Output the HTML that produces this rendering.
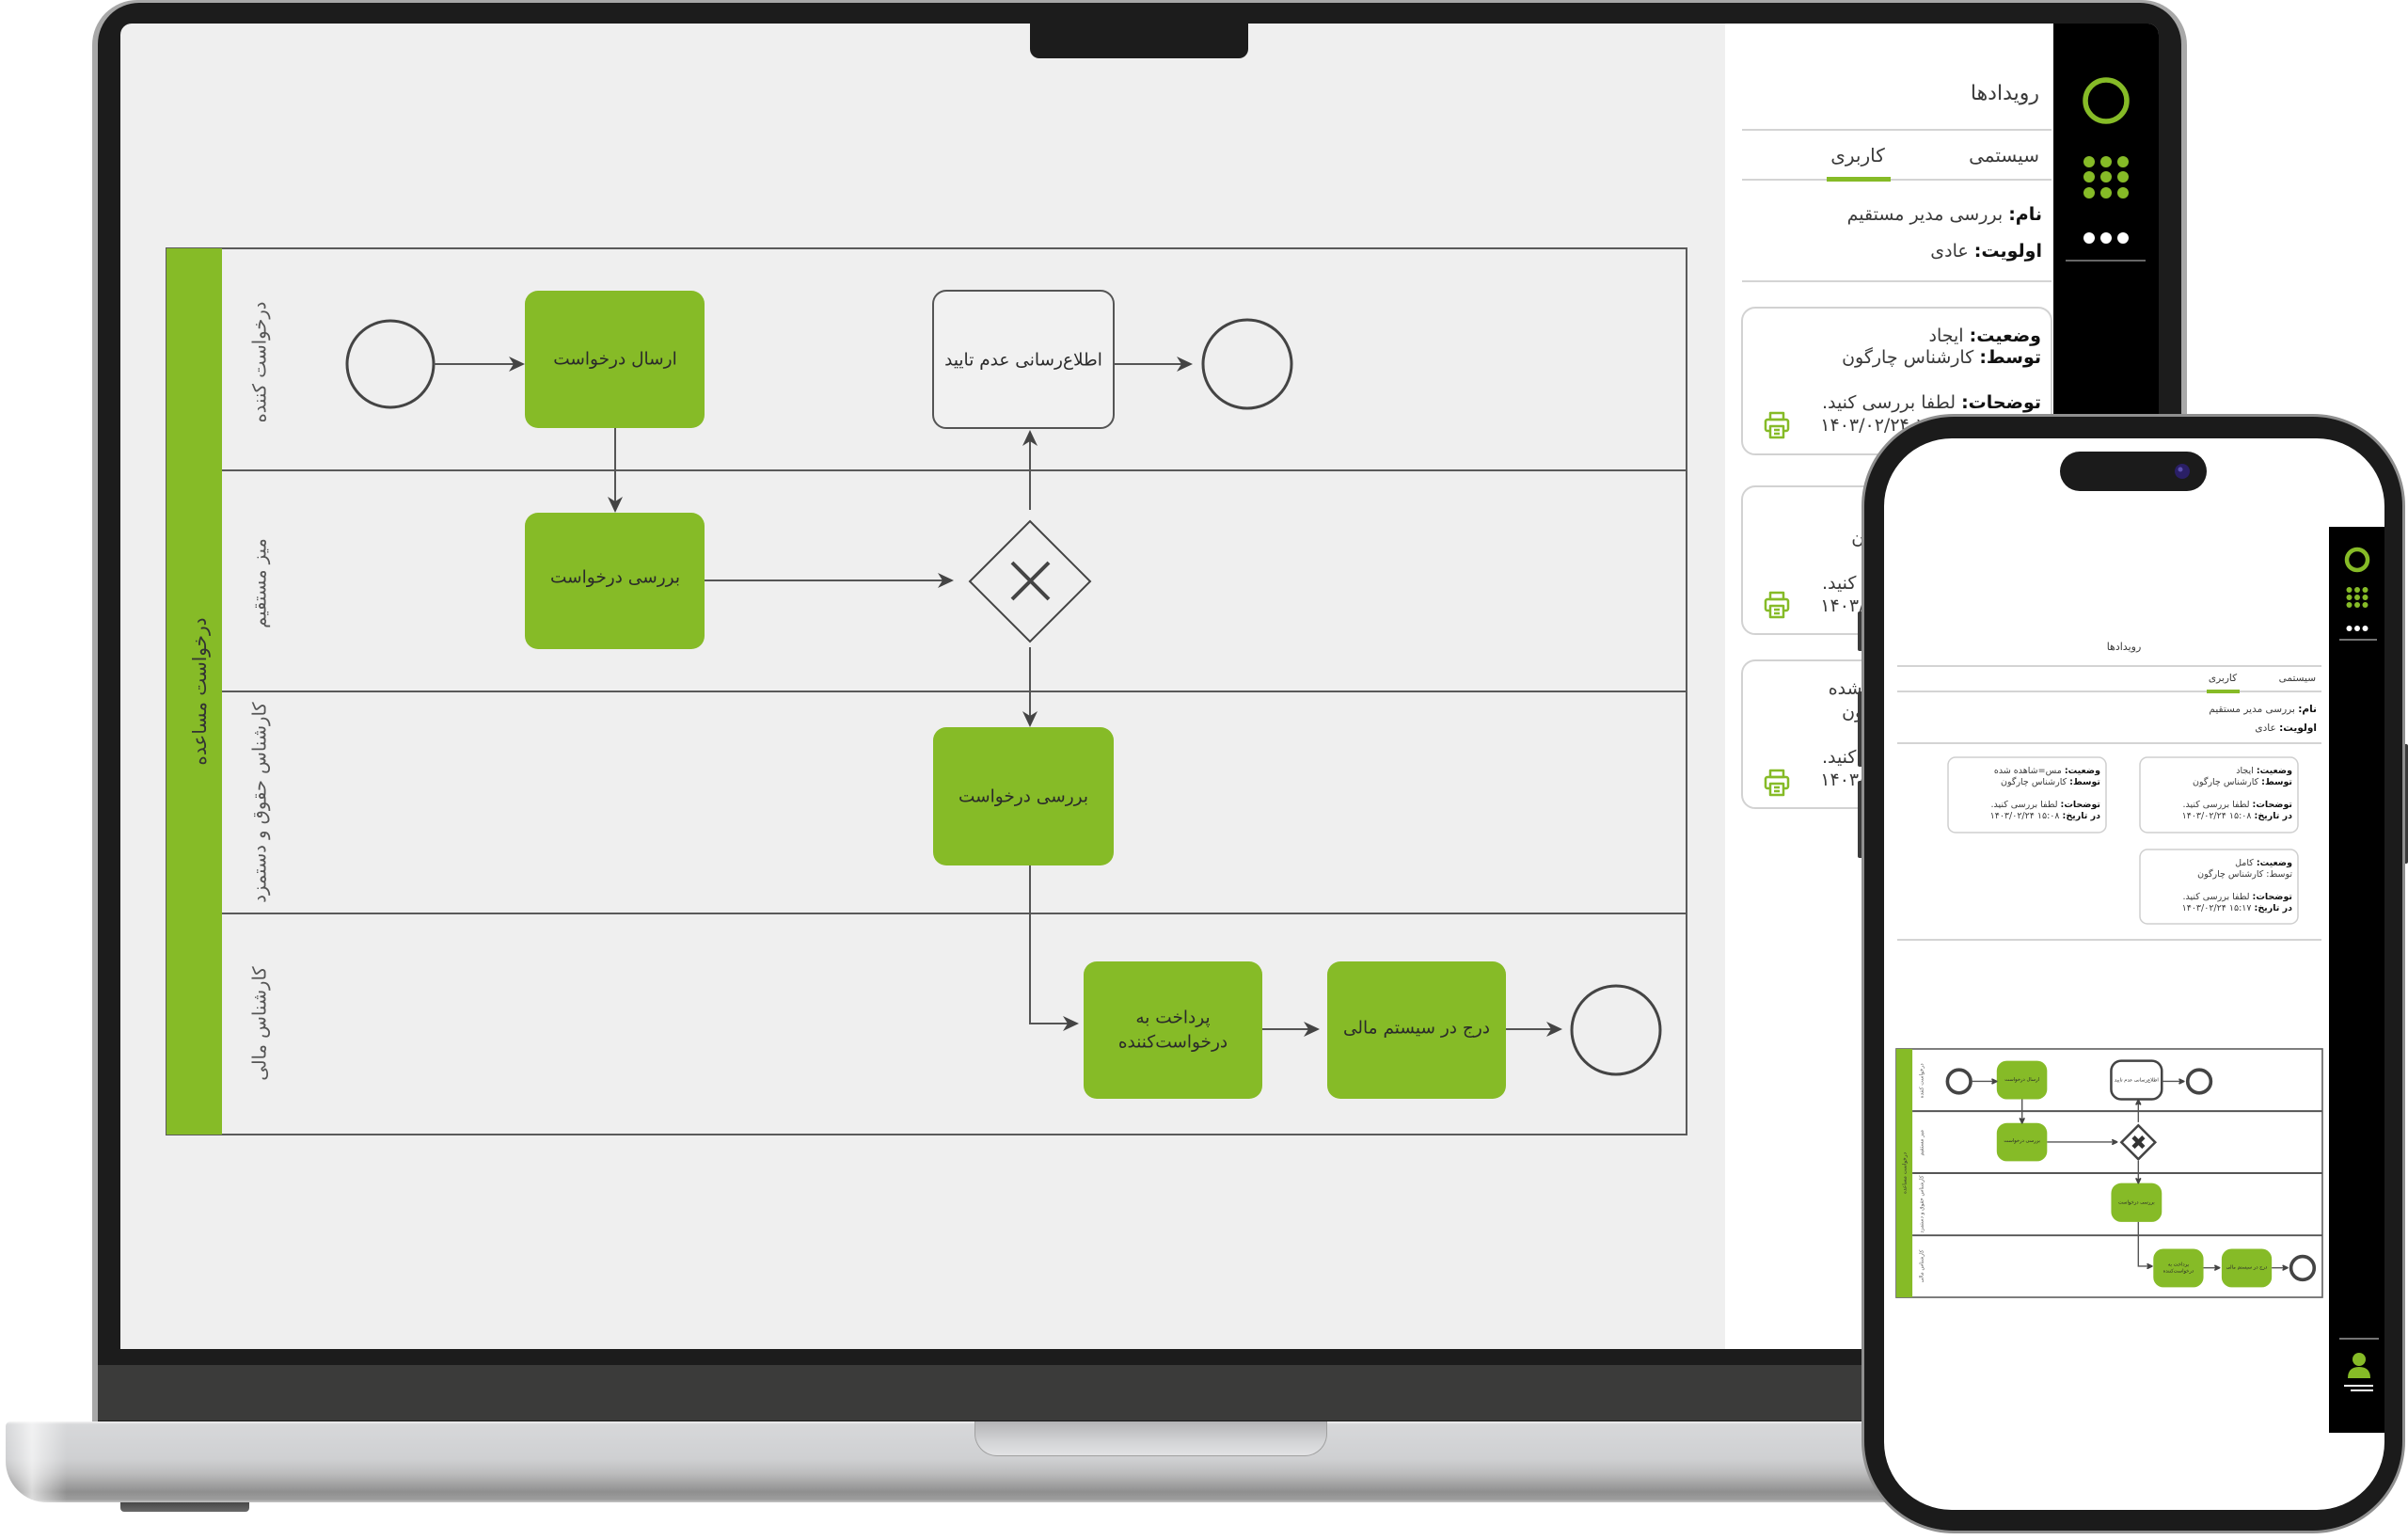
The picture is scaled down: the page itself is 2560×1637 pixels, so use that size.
<!DOCTYPE html>
<html><head><meta charset="utf-8">
<style>
html,body{margin:0;padding:0;}
body{width:2560px;height:1637px;position:relative;overflow:hidden;background:#fff;font-family:"DejaVu Sans",sans-serif;}
.a{position:absolute;}
.t{position:absolute;direction:rtl;white-space:nowrap;color:#3a3a3a;font-family:"DejaVu Sans",sans-serif;}
.t b{color:#111;font-weight:bold;}
.L{font-size:19px;line-height:30px;}
.P{font-size:10.5px;line-height:14px;}
.C{font-size:9.5px;line-height:12px;}
</style></head><body>

<!-- laptop base -->
<div class="a" style="left:6px;top:1511px;width:2400px;height:86px;border-radius:5px 0 0 44px;background:linear-gradient(#f4f4f4 0,#d7d8da 3px,#cfd0d2 40px,#bdbdbe 55px,#8f8f8f 75px,#9d9d9d 83px,#c6c6c6 86px);"></div>
<div class="a" style="left:6px;top:1511px;width:70px;height:86px;border-radius:5px 0 0 44px;background:linear-gradient(90deg,rgba(255,255,255,0) 0,rgba(255,255,255,0.65) 28px,rgba(255,255,255,0) 65px);"></div>
<div class="a" style="left:1036px;top:1511px;width:375px;height:37px;border-radius:0 0 24px 24px;background:linear-gradient(#b4b4b6,#d3d4d6 60%,#e2e2e4);border:1px solid #a0a0a0;border-top:none;box-sizing:border-box;"></div>
<div class="a" style="left:128px;top:1597px;width:137px;height:10px;border-radius:0 0 4px 4px;background:linear-gradient(#474747,#6a6a6a);"></div>

<!-- laptop lid -->
<div class="a" style="left:98px;top:0;width:2227px;height:1511px;border-radius:48px 48px 0 0;background:#a8a8a8;"></div>
<div class="a" style="left:104px;top:3px;width:2215px;height:1508px;border-radius:44px 44px 0 0;background:#1c1c1c;"></div>
<div class="a" style="left:104px;top:1451px;width:2215px;height:59px;background:#3b3b3a;"></div>
<div class="a" style="left:128px;top:25px;width:2167px;height:1409px;border-radius:12px 12px 0 0;background:#efefef;"></div>
<div class="a" style="left:1834px;top:25px;width:349px;height:1409px;background:#fff;"></div>
<div class="a" style="left:2183px;top:25px;width:112px;height:1409px;background:#000;border-radius:0 12px 0 0;"></div>
<div class="a" style="left:1095px;top:20px;width:232px;height:42px;background:#1c1c1c;border-radius:0 0 10px 10px;"></div>

<!-- laptop svg layer -->
<svg class="a" style="left:0;top:0" width="2560" height="1637" viewBox="0 0 2560 1637" font-family="DejaVu Sans, sans-serif">
  <rect x="177" y="264" width="1616" height="942" fill="none" stroke="#5a5a5a" stroke-width="2"/>
  <rect x="177" y="264" width="59" height="942" fill="#86bb27"/>
  <g stroke="#5a5a5a" stroke-width="2">
    <line x1="236" y1="500" x2="1793" y2="500"/>
    <line x1="236" y1="735" x2="1793" y2="735"/>
    <line x1="236" y1="971" x2="1793" y2="971"/>
  </g>
  <g text-anchor="middle" dominant-baseline="central">
    <text transform="translate(212,735) rotate(-90)" font-size="20" fill="#333">درخواست مساعده</text>
    <text transform="translate(276,385) rotate(-90)" font-size="19.5" fill="#555">درخواست کننده</text>
    <text transform="translate(276,620) rotate(-90)" font-size="19.5" fill="#555">میز مستقیم</text>
    <text transform="translate(276,853) rotate(-90)" font-size="19.5" fill="#555">کارشناس حقوق و دستمزد</text>
    <text transform="translate(276,1088) rotate(-90)" font-size="19.5" fill="#555">کارشناس مالی</text>
  </g>
  <g fill="#86bb27">
    <rect x="558" y="309" width="191" height="146" rx="14"/>
    <rect x="558" y="545" width="191" height="145" rx="14"/>
    <rect x="992" y="773" width="192" height="147" rx="14"/>
    <rect x="1152" y="1022" width="190" height="146" rx="14"/>
    <rect x="1411" y="1022" width="190" height="146" rx="14"/>
  </g>
  <rect x="992" y="309" width="192" height="146" rx="14" fill="#f1f1f1" stroke="#555" stroke-width="2"/>
  <g fill="none" stroke="#444" stroke-width="3">
    <circle cx="415" cy="387" r="46"/>
    <circle cx="1326" cy="387" r="47"/>
    <circle cx="1718" cy="1095" r="47"/>
  </g>
  <path d="M1095 554L1159 618L1095 682L1031 618Z" fill="none" stroke="#444" stroke-width="2"/>
  <path d="M1076 598L1115 637M1115 598L1076 637" stroke="#444" stroke-width="4"/>
  <path d="M461 387H548M654 455V535M749 617H1004M1095 542V467M1184 387H1258M1095 688V763M1095 920V1088H1137M1342 1094H1393M1601 1094H1651" fill="none" stroke="#555" stroke-width="2"/>
  <g fill="#444">
    <path d="M558 387L541 379L546 387L541 395Z"/>
    <path d="M654 545L646 528L654 533L662 528Z"/>
    <path d="M1014 617L997 609L1002 617L997 625Z"/>
    <path d="M1095 457L1087 474L1095 469L1103 474Z"/>
    <path d="M1268 387L1251 379L1256 387L1251 395Z"/>
    <path d="M1095 773L1087 756L1095 761L1103 756Z"/>
    <path d="M1147 1088L1130 1080L1135 1088L1130 1096Z"/>
    <path d="M1403 1094L1386 1086L1391 1094L1386 1102Z"/>
    <path d="M1661 1094L1644 1086L1649 1094L1644 1102Z"/>
  </g>
  <g font-size="18.5" fill="#2a2a2a" text-anchor="middle" dominant-baseline="central">
    <text x="654" y="382">ارسال درخواست</text>
    <text x="654" y="614">بررسی درخواست</text>
    <text x="1088" y="383">اطلاع‌رسانی عدم تایید</text>
    <text x="1088" y="847">بررسی درخواست</text>
    <text x="1247" y="1082">پرداخت به</text>
    <text x="1247" y="1108">درخواست‌کننده</text>
    <text x="1506" y="1093">درج در سیستم مالی</text>
  </g>

  <!-- panel -->
  <g stroke="#d4d4d4" stroke-width="2">
    <line x1="1852" y1="138" x2="2181" y2="138"/>
    <line x1="1852" y1="191" x2="2181" y2="191"/>
    <line x1="1852" y1="299" x2="2181" y2="299"/>
  </g>
  <rect x="1942" y="188" width="68" height="5" fill="#86bb27"/>
  <g fill="#fff" stroke="#d2d2d2" stroke-width="2">
    <rect x="1852" y="327" width="329" height="156" rx="14"/>
    <rect x="1852" y="517" width="329" height="157" rx="14"/>
    <rect x="1852" y="702" width="329" height="157" rx="14"/>
  </g>
  <g stroke="#86bb27" stroke-width="2.5" fill="none" stroke-linejoin="round">
    <g transform="translate(1889,452)"><rect x="-7" y="-13" width="14" height="7"/><rect x="-12" y="-6" width="24" height="12" rx="2"/><rect x="-7" y="1" width="14" height="12" fill="#fff"/><path d="M-3 5H3M-3 9H3"/></g>
    <g transform="translate(1889,643)"><rect x="-7" y="-13" width="14" height="7"/><rect x="-12" y="-6" width="24" height="12" rx="2"/><rect x="-7" y="1" width="14" height="12" fill="#fff"/><path d="M-3 5H3M-3 9H3"/></g>
    <g transform="translate(1889,832)"><rect x="-7" y="-13" width="14" height="7"/><rect x="-12" y="-6" width="24" height="12" rx="2"/><rect x="-7" y="1" width="14" height="12" fill="#fff"/><path d="M-3 5H3M-3 9H3"/></g>
  </g>
  <!-- laptop sidebar icons -->
  <circle cx="2239" cy="107" r="22" fill="none" stroke="#86bb27" stroke-width="5.5"/>
  <g fill="#86bb27">
    <circle cx="2221" cy="172" r="6"/><circle cx="2239" cy="172" r="6"/><circle cx="2257" cy="172" r="6"/>
    <circle cx="2221" cy="188" r="6"/><circle cx="2239" cy="188" r="6"/><circle cx="2257" cy="188" r="6"/>
    <circle cx="2221" cy="205" r="6"/><circle cx="2239" cy="205" r="6"/><circle cx="2257" cy="205" r="6"/>
  </g>
  <g fill="#fff"><circle cx="2221" cy="253" r="6"/><circle cx="2239" cy="253" r="6"/><circle cx="2257" cy="253" r="6"/></g>
  <line x1="2196" y1="277" x2="2281" y2="277" stroke="#666" stroke-width="2"/>
</svg>

<!-- laptop panel text -->
<div class="t L" style="right:392px;top:85px;font-size:22px;">رویدادها</div>
<div class="t L" style="right:392px;top:150px;font-size:20px;">سیستمی</div>
<div class="t L" style="left:1915px;width:120px;top:150px;text-align:center;font-size:20px;">کاربری</div>
<div class="t L" style="right:389px;top:213px;"><b>نام:</b> بررسی مدیر مستقیم</div>
<div class="t L" style="right:389px;top:252px;"><b>اولویت:</b> عادی</div>

<div class="t L" style="right:390px;top:342px;"><b>وضعیت:</b> ایجاد</div>
<div class="t L" style="right:390px;top:365px;"><b>توسط:</b> کارشناس چارگون</div>
<div class="t L" style="right:390px;top:413px;"><b>توضحات:</b> لطفا بررسی کنید.</div>
<div class="t L" style="right:390px;top:437px;"><b>در تاریخ:</b> ۱۵:۰۸ ۱۴۰۳/۰۲/۲۴</div>

<div class="t L" style="right:390px;top:532px;"><b>وضعیت:</b> کامل</div>
<div class="t L" style="right:390px;top:557px;">توسط: کارشناس چارگون</div>
<div class="t L" style="right:390px;top:605px;"><b>توضحات:</b> لطفا بررسی کنید.</div>
<div class="t L" style="right:390px;top:629px;"><b>در تاریخ:</b> ۱۵:۱۷ ۱۴۰۳/۰۲/۲۴</div>

<div class="t L" style="right:390px;top:717px;"><b>وضعیت:</b> مس=شاهده شده</div>
<div class="t L" style="right:390px;top:742px;"><b>توسط:</b> کارشناس چارگون</div>
<div class="t L" style="right:390px;top:790px;"><b>توضحات:</b> لطفا بررسی کنید.</div>
<div class="t L" style="right:390px;top:814px;"><b>در تاریخ:</b> ۱۵:۰۸ ۱۴۰۳/۰۲/۲۴</div>

<!-- phone buttons -->
<div class="a" style="left:1975px;top:650px;width:6px;height:42px;background:#3a3a3a;border-radius:2px;"></div>
<div class="a" style="left:1975px;top:735px;width:6px;height:80px;background:#3a3a3a;border-radius:2px;"></div>
<div class="a" style="left:1975px;top:830px;width:6px;height:82px;background:#3a3a3a;border-radius:2px;"></div>
<div class="a" style="left:2555px;top:791px;width:5px;height:127px;background:#3a3a3a;border-radius:2px;"></div>

<!-- phone body -->
<div class="a" style="left:1979px;top:440px;width:578px;height:1190px;border-radius:98px;background:#8f8f8f;"></div>
<div class="a" style="left:1982px;top:443px;width:572px;height:1184px;border-radius:95px;background:#1b1b1b;"></div>
<div class="a" style="left:2003px;top:466px;width:532px;height:1139px;border-radius:72px;background:#fff;"></div>
<div class="a" style="left:2190px;top:480px;width:156px;height:42px;border-radius:21px;background:#1b1b1b;"></div>
<div class="a" style="left:2476px;top:560px;width:59px;height:963px;background:#000;"></div>

<!-- phone svg layer -->
<svg class="a" style="left:0;top:0" width="2560" height="1637" viewBox="0 0 2560 1637" font-family="DejaVu Sans, sans-serif">
  <circle cx="2320" cy="501" r="8" fill="#2a1f66"/>
  <circle cx="2318" cy="499" r="2.5" fill="#5a4fb0"/>
  <g stroke="#d4d4d4" stroke-width="2">
    <line x1="2017" y1="708" x2="2468" y2="708"/>
    <line x1="2017" y1="735" x2="2468" y2="735"/>
    <line x1="2017" y1="790" x2="2468" y2="790"/>
    <line x1="2017" y1="999" x2="2468" y2="999"/>
  </g>
  <rect x="2346" y="733" width="35" height="4" fill="#86bb27"/>
  <g fill="#fff" stroke="#cfcfcf" stroke-width="1.5">
    <rect x="2275" y="805" width="168" height="80" rx="8"/>
    <rect x="2071" y="805" width="168" height="80" rx="8"/>
    <rect x="2275" y="903" width="168" height="79" rx="8"/>
  </g>
  <!-- phone sidebar icons -->
  <circle cx="2506" cy="595" r="11" fill="none" stroke="#86bb27" stroke-width="4.5"/>
  <g fill="#86bb27">
    <circle cx="2497.5" cy="627" r="3"/><circle cx="2506" cy="627" r="3"/><circle cx="2514.5" cy="627" r="3"/>
    <circle cx="2497.5" cy="635" r="3"/><circle cx="2506" cy="635" r="3"/><circle cx="2514.5" cy="635" r="3"/>
    <circle cx="2497.5" cy="643" r="3"/><circle cx="2506" cy="643" r="3"/><circle cx="2514.5" cy="643" r="3"/>
  </g>
  <g fill="#fff"><circle cx="2497.5" cy="668" r="3"/><circle cx="2506" cy="668" r="3"/><circle cx="2514.5" cy="668" r="3"/></g>
  <line x1="2487" y1="680" x2="2527" y2="680" stroke="#999" stroke-width="1.5"/>
  <line x1="2487" y1="1423" x2="2529" y2="1423" stroke="#999" stroke-width="1.5"/>
  <circle cx="2508" cy="1445" r="7" fill="#86bb27"/>
  <path d="M2496 1465Q2496 1453 2508 1453Q2520 1453 2520 1465Z" fill="#86bb27"/>
  <line x1="2492" y1="1473" x2="2523" y2="1473" stroke="#fff" stroke-width="2"/>
  <line x1="2499" y1="1478" x2="2523" y2="1478" stroke="#fff" stroke-width="2"/>

  <!-- phone diagram -->
  <g transform="translate(2016,1115) scale(0.2803) translate(-177,-264)">
    <rect x="177" y="264" width="1616" height="942" fill="#fff" stroke="#666" stroke-width="6"/>
    <rect x="177" y="264" width="61" height="942" fill="#86bb27"/>
    <g stroke="#555" stroke-width="7">
      <line x1="238" y1="500" x2="1793" y2="500"/>
      <line x1="238" y1="735" x2="1793" y2="735"/>
      <line x1="238" y1="971" x2="1793" y2="971"/>
    </g>
    <g text-anchor="middle" dominant-baseline="central">
      <text transform="translate(210,735) rotate(-90)" font-size="20" fill="#333">درخواست مساعده</text>
      <text transform="translate(276,385) rotate(-90)" font-size="20" fill="#555">درخواست کننده</text>
      <text transform="translate(276,620) rotate(-90)" font-size="20" fill="#555">میز مستقیم</text>
      <text transform="translate(276,853) rotate(-90)" font-size="20" fill="#555">کارشناس حقوق و دستمزد</text>
      <text transform="translate(276,1088) rotate(-90)" font-size="20" fill="#555">کارشناس مالی</text>
    </g>
    <g fill="#86bb27">
      <rect x="558" y="309" width="191" height="146" rx="38"/>
      <rect x="558" y="545" width="191" height="145" rx="38"/>
      <rect x="992" y="773" width="192" height="147" rx="38"/>
      <rect x="1152" y="1022" width="190" height="146" rx="38"/>
      <rect x="1411" y="1022" width="190" height="146" rx="38"/>
    </g>
    <rect x="992" y="309" width="192" height="146" rx="38" fill="#fff" stroke="#444" stroke-width="9"/>
    <g fill="none" stroke="#444" stroke-width="13">
      <circle cx="415" cy="387" r="44"/>
      <circle cx="1326" cy="387" r="44"/>
      <circle cx="1718" cy="1095" r="44"/>
    </g>
    <path d="M1095 554L1159 618L1095 682L1031 618Z" fill="#fff" stroke="#444" stroke-width="9"/>
    <path d="M1076 598L1115 637M1115 598L1076 637" stroke="#333" stroke-width="16"/>
    <path d="M461 387H548M654 455V535M749 617H1004M1095 542V467M1184 387H1258M1095 688V763M1095 920V1088H1137M1342 1094H1393M1601 1094H1651" fill="none" stroke="#555" stroke-width="5"/>
    <g fill="#444" stroke="#444" stroke-width="6" stroke-linejoin="round">
      <path d="M558 387L541 379L546 387L541 395Z"/>
      <path d="M654 545L646 528L654 533L662 528Z"/>
      <path d="M1014 617L997 609L1002 617L997 625Z"/>
      <path d="M1095 457L1087 474L1095 469L1103 474Z"/>
      <path d="M1268 387L1251 379L1256 387L1251 395Z"/>
      <path d="M1095 773L1087 756L1095 761L1103 756Z"/>
      <path d="M1147 1088L1130 1080L1135 1088L1130 1096Z"/>
      <path d="M1403 1094L1386 1086L1391 1094L1386 1102Z"/>
      <path d="M1661 1094L1644 1086L1649 1094L1644 1102Z"/>
    </g>
    <g font-size="18.5" fill="#2a2a2a" text-anchor="middle" dominant-baseline="central">
      <text x="654" y="382">ارسال درخواست</text>
      <text x="654" y="614">بررسی درخواست</text>
      <text x="1088" y="383">اطلاع‌رسانی عدم تایید</text>
      <text x="1088" y="847">بررسی درخواست</text>
      <text x="1247" y="1082">پرداخت به</text>
      <text x="1247" y="1108">درخواست‌کننده</text>
      <text x="1506" y="1093">درج در سیستم مالی</text>
    </g>
  </g>
</svg>

<!-- phone text -->
<div class="t P" style="left:2208px;width:100px;top:681px;text-align:center;font-size:11px;">رویدادها</div>
<div class="t P" style="right:98px;top:714px;">سیستمی</div>
<div class="t P" style="left:2333px;width:60px;top:714px;text-align:center;">کاربری</div>
<div class="t P" style="right:97px;top:747px;"><b>نام:</b> بررسی مدیر مستقیم</div>
<div class="t P" style="right:97px;top:767px;"><b>اولویت:</b> عادی</div>

<div class="t C" style="right:123px;top:814px;"><b>وضعیت:</b> ایجاد</div>
<div class="t C" style="right:123px;top:826px;"><b>توسط:</b> کارشناس چارگون</div>
<div class="t C" style="right:123px;top:850px;"><b>توضحات:</b> لطفا بررسی کنید.</div>
<div class="t C" style="right:123px;top:862px;"><b>در تاریخ:</b> ۱۵:۰۸ ۱۴۰۳/۰۲/۲۴</div>

<div class="t C" style="right:327px;top:814px;"><b>وضعیت:</b> مس=شاهده شده</div>
<div class="t C" style="right:327px;top:826px;"><b>توسط:</b> کارشناس چارگون</div>
<div class="t C" style="right:327px;top:850px;"><b>توضحات:</b> لطفا بررسی کنید.</div>
<div class="t C" style="right:327px;top:862px;"><b>در تاریخ:</b> ۱۵:۰۸ ۱۴۰۳/۰۲/۲۴</div>

<div class="t C" style="right:123px;top:912px;"><b>وضعیت:</b> کامل</div>
<div class="t C" style="right:123px;top:924px;">توسط: کارشناس چارگون</div>
<div class="t C" style="right:123px;top:948px;"><b>توضحات:</b> لطفا بررسی کنید.</div>
<div class="t C" style="right:123px;top:960px;"><b>در تاریخ:</b> ۱۵:۱۷ ۱۴۰۳/۰۲/۲۴</div>

</body></html>
